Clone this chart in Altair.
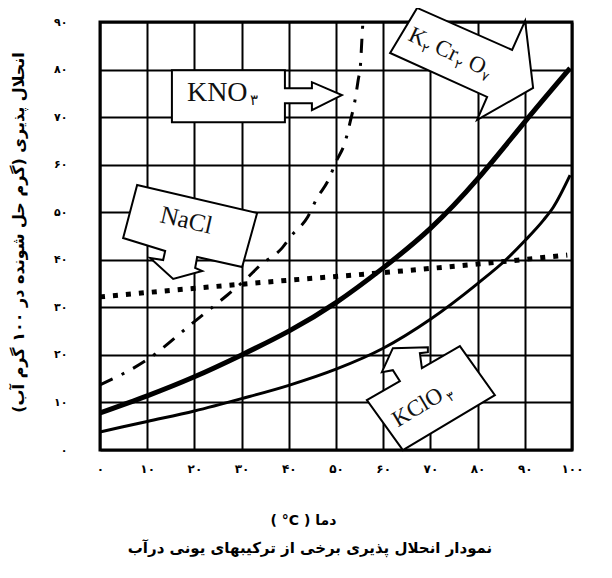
import altair as alt
import pandas as pd

# ---------------- data ----------------
kno3_t = [0, 10, 20, 27, 31, 34, 38.6, 40.5, 44, 46, 48.3, 50, 52, 53, 54, 54.7, 55.2, 55.5, 55.7]
kno3_s = [13.7, 19, 27, 32.6, 36, 38.9, 42.5, 45, 49, 53, 56.6, 60.6, 65, 69, 73.4, 77.8, 81.2, 86.6, 90]

k2cr2o7_t = [0, 10, 20, 30, 40, 50, 60, 70, 80, 90, 99.6]
k2cr2o7_s = [7.8, 11.4, 15.4, 20, 25, 31, 38.3, 46.6, 57, 69, 80.3]

kclo3_t = [0, 10, 20, 30, 40, 50, 60, 70, 80, 86, 90, 94, 96, 99.6]
kclo3_s = [3.8, 6, 8.2, 10.8, 13.6, 17, 21.4, 27.5, 35, 40, 44, 48.4, 51, 57.8]

nacl_t = [0, 20, 40, 60, 80, 99]
nacl_s = [32.2, 34, 35.7, 37.3, 39.1, 41]

x_ticks = [0, 10, 20, 30, 40, 50, 60, 70, 80, 90, 100]
x_tick_labels = ["۰", "۱۰", "۲۰", "۳۰", "۴۰", "۵۰", "۶۰", "۷۰", "۸۰", "۹۰", "۱۰۰"]
y_ticks = [0, 10, 20, 30, 40, 50, 60, 70, 80, 90]
y_tick_labels = ["۰", "۱۰", "۲۰", "۳۰", "۴۰", "۵۰", "۶۰", "۷۰", "۸۰", "۹۰"]

y_title = "انحلال پذیری (گرم حل شونده در ۱۰۰ گرم آب)\u200f"
x_title = "( °C ) دما"
subtitle = "نمودار انحلال پذیری برخی از ترکیبهای یونی درآب"

# callout anchors (data units) and shapes (pixel outline around anchor)
callout_names = ["KNO3", "K2Cr2O7", "NaCl", "KClO3"]
callout_x = [27.1, 74.6, 19.1, 70.1]
callout_y = [74.4, 83.7, 47.1, 10.9]
callout_paths = [
    "M-56,-26L57,-26L57,-8L84,-8L84,-14L114,-1L84,14L84,7L57,7L57,26L-56,26Z",
    "M-35,-44L60,-2L73,-31L81,36L25,68L35,45L-62,1Z",
    "M-53,-41L67,-13L52,41L7,31L5,42L12,45L-17,53L-40,32L-27,34L-25,25L-67,12Z",
    "M29,-52L-9,-30L-11,-45L-3,-46L-3,-51L-38,-50L-49,-26L-38,-28L-31,-17L-64,2L-28,52L64,-3Z",
]

# label pieces: (callout index, text, angle, dx, dy, fontSize, align)
label_pieces = [
    (0, "KNO", 0, -41, 5, 28, "left"),
    (0, "۳", 0, 22, 9, 15, "left"),
    (1, "K", 25, -46, 8, 23, "left"),
    (1, "۲", 25, -29, 13, 13, "left"),
    (1, "Cr", 25, -17, 8, 23, "left"),
    (1, "۲", 25, 7, 13, 13, "left"),
    (1, "O", 25, 20, 8, 23, "left"),
    (1, "۷", 25, 37, 13, 13, "left"),
    (2, "NaCl", 13, -5, 3, 25, "center"),
    (3, "KClO", 329, -16, 8, 23, "center"),
    (3, "۳", 329, 14, 13, 13, "left"),
]

# ---------------- chart ----------------
xs = alt.Scale(domain=[0, 100], nice=False, zero=False)
ys = alt.Scale(domain=[0, 90], nice=False, zero=False)


def label_expr(ticks, labels):
    expr = "''"
    for t, l in reversed(list(zip(ticks, labels))):
        expr = f"datum.value == {t} ? '{l}' : ({expr})"
    return expr


x_axis = alt.Axis(
    values=x_ticks, labelExpr=label_expr(x_ticks, x_tick_labels),
    grid=True, gridColor="black", gridWidth=2, gridOpacity=1,
    domain=False, ticks=False, labelFlush=False, labelOverlap=False,
    labelFont="DejaVu Sans", labelFontWeight="bold", labelFontSize=12,
    labelColor="black", labelPadding=13, labelBaseline="top",
    title=x_title, titleFont="DejaVu Sans", titleFontSize=14, titleFontWeight="bold",
    titleColor="black", titleX=203, titleY=70, titleAlign="center", titleBaseline="middle",
)
y_axis = alt.Axis(
    values=y_ticks, labelExpr=label_expr(y_ticks, y_tick_labels),
    grid=True, gridColor="black", gridWidth=2, gridOpacity=1,
    domain=False, ticks=False, labelFlush=False, labelOverlap=False,
    labelFont="DejaVu Sans", labelFontWeight="bold", labelFontSize=11,
    labelColor="black", labelPadding=33, labelAlign="right", labelBaseline="middle",
    title=y_title, titleFont="DejaVu Sans", titleFontSize=16, titleFontWeight="bold",
    titleColor="black", titleAngle=270, titleX=-82, titleY=210,
    titleAlign="center", titleBaseline="middle",
)


def X(field):
    return alt.X(field, scale=xs, axis=x_axis)


def Y(field):
    return alt.Y(field, scale=ys, axis=y_axis)


def line_layer(t, s, interp="monotone", **style):
    df = pd.DataFrame({"t": t, "s": s})
    return alt.Chart(df).mark_line(color="black", interpolate=interp, **style).encode(
        x=X("t:Q"), y=Y("s:Q"),
    )


layers = [
    line_layer(k2cr2o7_t, k2cr2o7_s, interp="natural", strokeWidth=5),
    line_layer(kclo3_t, kclo3_s, strokeWidth=3),
    line_layer(nacl_t, nacl_s, strokeWidth=5, strokeDash=[5, 8]),
    line_layer(kno3_t, kno3_s, strokeWidth=3, strokeDash=[14, 10, 3, 10]),
]

for i, name in enumerate(callout_names):
    df = pd.DataFrame({"t": [callout_x[i]], "s": [callout_y[i]], "name": [name]})
    layers.append(
        alt.Chart(df).mark_point(
            shape=callout_paths[i], size=4, filled=True, fill="white",
            stroke="black", strokeWidth=2, opacity=1,
        ).encode(x=X("t:Q"), y=Y("s:Q"))
    )

for ci, txt, ang, dx, dy, fs, al in label_pieces:
    df = pd.DataFrame({"t": [callout_x[ci]], "s": [callout_y[ci]], "label": [txt]})
    layers.append(
        alt.Chart(df).mark_text(
            font="Liberation Serif", fontSize=fs, angle=ang, dx=dx, dy=dy,
            align=al, baseline="alphabetic", color="#111111",
        ).encode(x=X("t:Q"), y=Y("s:Q"), text="label:N")
    )

sub_df = pd.DataFrame({"label": [subtitle]})
layers.append(
    alt.Chart(sub_df).mark_text(
        font="DejaVu Sans", fontSize=15, fontWeight="bold", color="black",
        align="center", baseline="middle",
    ).encode(x=alt.value(210), y=alt.value(526), text="label:N")
)

chart = alt.layer(*layers).properties(
    width=472, height=428,
    autosize=alt.AutoSizeParams(type="none"),
    padding={"left": 92, "top": 14, "right": 32, "bottom": 112},
    background="white",
).configure_view(stroke="black", strokeWidth=3)

chart.save("out.html", embed_options={"renderer": "svg", "actions": False})
